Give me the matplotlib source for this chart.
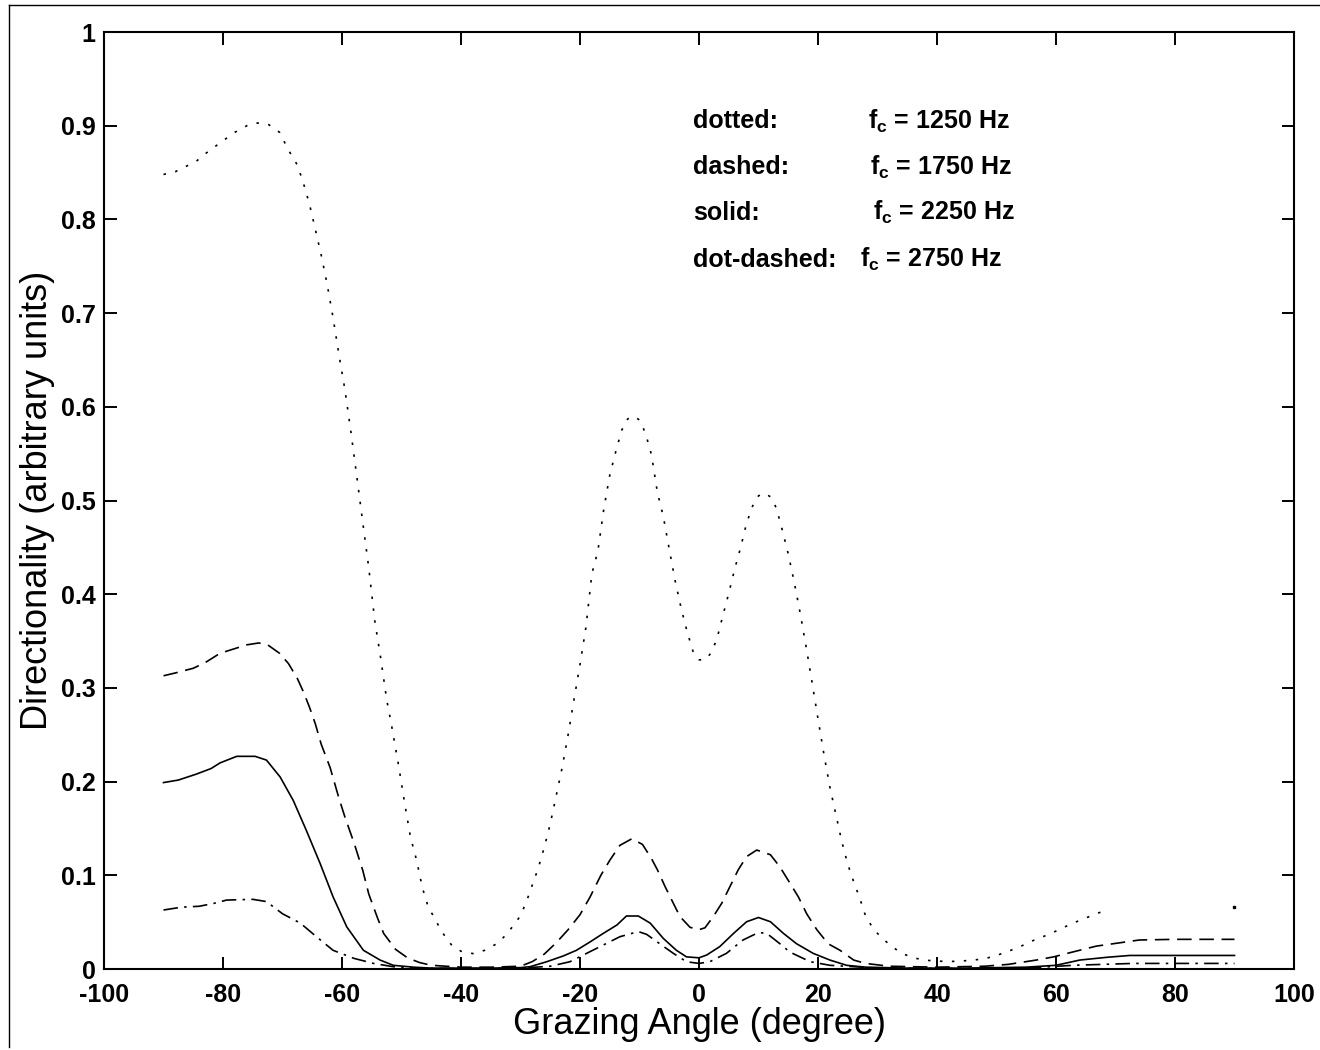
import numpy as np
import matplotlib
matplotlib.use('Agg')
import matplotlib.pyplot as plt
from matplotlib.lines import Line2D

plt.rcParams['font.family'] = ['Liberation Sans', 'DejaVu Sans']
plt.rcParams['mathtext.fontset'] = 'custom'
plt.rcParams['mathtext.rm'] = 'Liberation Sans:bold'
plt.rcParams['mathtext.it'] = 'Liberation Sans:bold'
plt.rcParams['mathtext.bf'] = 'Liberation Sans:bold'
plt.rcParams['axes.unicode_minus'] = False
plt.rcParams['lines.scale_dashes'] = False

nan = np.nan

# fc = 1250 Hz (dotted)
x_1250 = [-90, -88, -84.5, -83, -80, -78, -76, -74.5, -72.5, -70.5, -69, -67.5, -66.5, -65.5,
          -64.5, -63.5, -62.5, -61.5, -60.5, -59.5, -58.5, -57.5, -56.5, -55.5, -54.5, -53.5,
          -52.5, -51.5, -50.5, -49.5, -48.5, -47.5, -46.5, -45.5, -44.5, -43.5, -42.5, -41.5,
          -40, -38, -36, -34, -32.5, -31, -30, -29, -28, -27, -26, -25, -24, -23, -22, -21,
          -20, -19, -18, -17, -16, -15, -14, -13, -12, -11, -10, -9, -8, -7, -6, -5, -4, -3,
          -2, -1, 0, 1, 2, 3, 4, 5, 6, 7, 8, 9, 10, 11, 12, 13, 14, 15, 16, 17, 18, 19, 20,
          21, 22, 23, 24, 25, 26, 27, 28, 29, 30, 32, 34, 36, 38, 40, 42, 44, 46, 48, 50, 52,
          54, 56, 58, 60, 62, 64, 66, 68, 70, 90]
y_1250 = [0.848, 0.851, 0.862, 0.870, 0.884, 0.893, 0.900, 0.903, 0.902, 0.893, 0.874, 0.858,
          0.839, 0.817, 0.790, 0.762, 0.731, 0.695, 0.655, 0.618, 0.573, 0.525, 0.476, 0.428,
          0.372, 0.332, 0.288, 0.254, 0.2175, 0.178, 0.141, 0.117, 0.087, 0.066, 0.055, 0.043,
          0.033, 0.025, 0.019, 0.0165, 0.020, 0.027, 0.036, 0.048, 0.057, 0.072, 0.090, 0.108,
          0.130, 0.155, 0.185, 0.215, 0.250, 0.288, 0.325, 0.365, 0.422, 0.446, 0.491, 0.527,
          0.552, 0.575, 0.587, 0.590, 0.586, 0.572, 0.549, 0.509, 0.483, 0.448, 0.414, 0.385,
          0.360, 0.339, 0.330, 0.330, 0.337, 0.352, 0.377, 0.401, 0.427, 0.450, 0.476, 0.494,
          0.505, 0.508, 0.504, 0.492, 0.4685, 0.443, 0.413, 0.380, 0.344, 0.306, 0.267, 0.229,
          0.194, 0.165, 0.136, 0.112, 0.093, 0.076, 0.0565, 0.046, 0.038, 0.026, 0.017, 0.012,
          0.0095, 0.0085, 0.008, 0.0085, 0.0095, 0.011, 0.0145, 0.019, 0.024, 0.030, 0.035,
          0.0405, 0.0465, 0.052, 0.057, 0.062, nan, 0.066]

# fc = 1750 Hz (dashed)
x_1750 = [-90, -88, -85, -83, -80.5, -78, -76, -74, -72.5, -70.5, -69, -67.5, -66.5, -65.5,
          -64.5, -63.5, -62, -60.5, -59.5, -58, -56.5, -55.5, -54, -53, -51, -49, -47, -45,
          -40, -35, -30, -28, -26, -24, -22, -20, -18.3, -16.5, -15, -13.3, -11.3, -9.5, -8,
          -7, -5.7, -4.3, -3.2, -1.5, 0, 1, 2.4, 3.8, 5.2, 6.6, 8, 9.7, 12, 13.6, 15.3, 16.7,
          18.1, 19.8, 21.7, 23.7, 26, 28, 32, 40, 48, 52, 56.7, 59.6, 63, 66.8, 69.6, 74, 80, 90]
y_1750 = [0.313, 0.316, 0.321, 0.327, 0.337, 0.342, 0.346, 0.348, 0.346, 0.337, 0.326, 0.310,
          0.296, 0.280, 0.262, 0.240, 0.215, 0.182, 0.162, 0.135, 0.105, 0.080, 0.054, 0.038,
          0.021, 0.012, 0.007, 0.004, 0.002, 0.002, 0.003, 0.008, 0.016, 0.028, 0.042, 0.058,
          0.077, 0.100, 0.116, 0.132, 0.139, 0.133, 0.118, 0.106, 0.088, 0.070, 0.056, 0.0445,
          0.042, 0.044, 0.056, 0.070, 0.088, 0.106, 0.120, 0.127, 0.122, 0.109, 0.0915, 0.077,
          0.059, 0.042, 0.027, 0.020, 0.0096, 0.006, 0.003, 0.002, 0.003, 0.005, 0.0096, 0.013,
          0.0185, 0.0245, 0.027, 0.031, 0.0317, 0.0317]

# fc = 2250 Hz (solid)
x_2250 = [-90, -87.5, -84.5, -82, -80.5, -77.7, -74.6, -72.7, -70.4, -68.2, -66, -63.7, -61.5,
          -59.2, -56.4, -53.6, -51.4, -48, -45, -40, -35, -30, -28.4, -25.6, -22.8, -20.6,
          -18.3, -16.1, -13.8, -12.2, -10.2, -8.2, -6, -3.8, -2.1, 0, 1.3, 3.5, 5.8, 8, 10,
          12, 14.2, 16.4, 19.2, 22, 24.8, 28, 35, 45, 55, 60, 64, 68.5, 72.4, 80, 90]
y_2250 = [0.199, 0.2017, 0.208, 0.214, 0.220, 0.227, 0.227, 0.223, 0.205, 0.180, 0.148, 0.113,
          0.077, 0.045, 0.020, 0.0096, 0.004, 0.002, 0.001, 0.001, 0.001, 0.0015, 0.0025,
          0.0078, 0.014, 0.020, 0.029, 0.038, 0.047, 0.0566, 0.0566, 0.049, 0.0327, 0.020,
          0.013, 0.012, 0.015, 0.024, 0.038, 0.0505, 0.055, 0.0505, 0.038, 0.027, 0.0167,
          0.0096, 0.004, 0.002, 0.001, 0.001, 0.002, 0.004, 0.0096, 0.0125, 0.0145, 0.0145, 0.0145]

# fc = 2750 Hz (dot-dashed)
x_2750 = [-90, -87, -84, -81.6, -79.4, -75, -72.7, -70, -67, -64.3, -61.5, -58, -54.7, -51.4,
          -48, -40, -30, -25, -21.7, -18.9, -16.1, -13.3, -10.2, -8.8, -6.6, -4.3, -2.1, 0, 1.8,
          4.6, 7.4, 10, 11.4, 13.6, 15.3, 18.7, 22, 30, 45, 55, 62.9, 73, 80, 90]
y_2750 = [0.063, 0.066, 0.067, 0.070, 0.0736, 0.0744, 0.072, 0.059, 0.049, 0.0345, 0.020, 0.0114,
          0.006, 0.0025, 0.001, 0.0005, 0.001, 0.003, 0.0078, 0.0167, 0.0256, 0.0345, 0.040,
          0.037, 0.027, 0.0167, 0.0078, 0.006, 0.0078, 0.0167, 0.031, 0.039, 0.038, 0.027,
          0.018, 0.0078, 0.004, 0.001, 0.0005, 0.001, 0.004, 0.006, 0.006, 0.006]

xticks = [-100, -80, -60, -40, -20, 0, 20, 40, 60, 80, 100]
yticks = [0, 0.1, 0.2, 0.3, 0.4, 0.5, 0.6, 0.7, 0.8, 0.9, 1]
ytick_labels = ['0', '0.1', '0.2', '0.3', '0.4', '0.5', '0.6', '0.7', '0.8', '0.9', '1']

legend_names = ['dotted:', 'dashed:', 'solid:', 'dot-dashed:']
legend_freqs = ['1250', '1750', '2250', '2750']

fig = plt.figure(figsize=(13.2, 10.5), dpi=100)
ax = fig.add_axes([0.0788, 0.0771, 0.9015, 0.8924])

lw = 1.2
dotted = (0, (1.8, 6.8))
dashed = (0, (10.5, 5.5))
dashdot = (0, (10.5, 4.5, 1.8, 4.5))

ax.plot(x_1250, y_1250, color='black', lw=lw, linestyle=dotted)
# isolated samples (no neighbours) drawn as a single dot
y1 = np.array(y_1250)
for i in range(len(y1)):
    left = i == 0 or np.isnan(y1[i - 1])
    right = i == len(y1) - 1 or np.isnan(y1[i + 1])
    if left and right and not np.isnan(y1[i]):
        ax.plot(x_1250[i], y1[i], marker='s', ms=1.6, color='black', linestyle='none')
ax.plot(x_1750, y_1750, color='black', lw=lw, linestyle=dashed)
ax.plot(x_2250, y_2250, color='black', lw=lw, linestyle='-')
ax.plot(x_2750, y_2750, color='black', lw=lw, linestyle=dashdot)

ax.set_xlim(-100, 100)
ax.set_ylim(0, 1)
ax.set_xticks(xticks)
ax.set_yticks(yticks)
ax.set_yticklabels(ytick_labels)
ax.tick_params(direction='in', length=9, width=1.4, top=True, right=True,
               labelsize=18, pad=6)
ax.tick_params(axis='x', pad=10)
for lab in ax.get_xticklabels() + ax.get_yticklabels():
    lab.set_fontweight('bold')
for sp in ax.spines.values():
    sp.set_linewidth(1.5)

ax.set_xlabel('Grazing Angle (degree)', fontsize=26, labelpad=0)
ax.set_ylabel('Directionality (arbitrary units)', fontsize=26, labelpad=4)

rows_y = [0.905, 0.856, 0.807, 0.757]
f_x = [0.642, 0.644, 0.646, 0.635]
for name, freq, yy, fx in zip(legend_names, legend_freqs, rows_y, f_x):
    ax.text(0.495, yy, name, transform=ax.transAxes, fontsize=18, fontweight='bold',
            va='center', ha='left')
    ax.text(fx, yy, r'$\mathrm{f_c}$ = ' + freq + ' Hz', transform=ax.transAxes,
            fontsize=18, fontweight='bold', va='center', ha='left')

# outer frame of the original figure
fig.add_artist(Line2D([9 / 1320, 9 / 1320], [1 - 1047 / 1050, 1 - 5 / 1050],
                      transform=fig.transFigure, color='black', lw=1))
fig.add_artist(Line2D([9 / 1320, 1], [1 - 5 / 1050, 1 - 5 / 1050],
                      transform=fig.transFigure, color='black', lw=1))

fig.savefig('out.png', dpi=100)
